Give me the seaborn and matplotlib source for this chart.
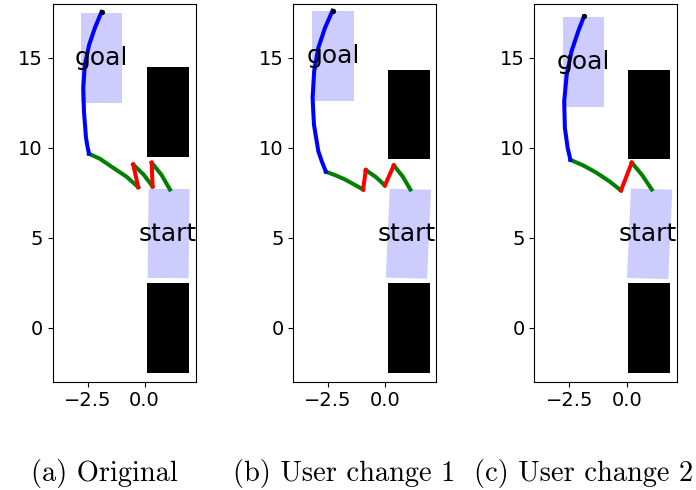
import matplotlib
matplotlib.use("Agg")
import matplotlib.pyplot as plt
from matplotlib.patches import Rectangle
import seaborn as sns

# ---------------- data ----------------
captions = ["(a) Original", "(b) User change 1", "(c) User change 2"]
x_ticks = [-2.5, 0.0]
x_tick_labels = ["\u22122.5", "0.0"]
y_ticks = [0, 5, 10, 15]
y_tick_labels = ["0", "5", "10", "15"]

# blue (forward) path, bottom -> top
a_blue_x = [-2.44, -2.51, -2.57, -2.66, -2.69, -2.62, -2.43, -2.18, -1.89]
a_blue_y = [9.67, 10.10, 10.56, 12.03, 13.33, 14.63, 15.74, 16.67, 17.56]
b_blue_x = [-2.58, -2.76, -2.91, -3.10, -3.16, -3.09, -2.91, -2.62, -2.29]
b_blue_y = [8.67, 9.25, 9.81, 11.29, 12.78, 14.26, 15.56, 16.67, 17.63]
c_blue_x = [-2.45, -2.57, -2.69, -2.72, -2.61, -2.40, -2.11, -1.86]
c_blue_y = [9.33, 10.00, 11.11, 12.59, 14.07, 15.37, 16.48, 17.31]

# green segments (start ... end)
a_green = [([1.11, 0.74, 0.31], [7.68, 8.50, 9.17]),
           ([0.35, -0.05, -0.50], [7.85, 8.52, 9.07]),
           ([-0.28, -0.79, -1.38, -1.96, -2.44], [7.81, 8.39, 8.89, 9.39, 9.67])]
b_green = [([1.10, 0.77, 0.38], [7.68, 8.40, 9.02]),
           ([-0.01, -0.41, -0.84], [7.91, 8.38, 8.76]),
           ([-0.96, -1.35, -1.75, -2.14, -2.58], [7.68, 7.96, 8.24, 8.46, 8.67])]
c_green = [([1.09, 0.65, 0.22], [7.68, 8.52, 9.17]),
           ([-0.25, -0.76, -1.31, -1.89, -2.45], [7.63, 8.14, 8.61, 9.02, 9.33])]

# red segments
a_red = [([0.31, 0.35], [9.17, 7.85]),
         ([-0.50, -0.28], [9.07, 7.81])]
b_red = [([0.38, -0.01], [9.02, 7.91]),
         ([-0.84, -0.96], [8.76, 7.68])]
c_red = [([0.22, -0.25], [9.17, 7.63])]

# goal region: (x0, y0, width, height)
goal_boxes = [(-2.79, 12.50, 1.80, 5.0), (-3.17, 12.59, 1.81, 5.0), (-2.79, 12.28, 1.80, 5.0)]
# start region: (x0, y0, width, height, angle)
start_boxes = [(0.13, 2.76, 1.80, 4.96, -0.5), (0.03, 2.78, 1.80, 4.95, -2.0), (0.01, 2.76, 1.80, 4.98, -2.0)]
# obstacles: (x0, y0, width, height)
obstacles = [[(0.10, 9.50, 1.85, 5.0), (0.10, -2.50, 1.85, 5.0)],
             [(0.12, 9.35, 1.83, 5.0), (0.12, -2.50, 1.83, 5.0)],
             [(0.06, 9.35, 1.83, 5.0), (0.06, -2.50, 1.83, 5.0)]]
xlims = [(-4.03, 2.24), (-4.00, 2.23), (-4.02, 2.20)]
ylim = (-3.0, 18.0)

blues = [(a_blue_x, a_blue_y), (b_blue_x, b_blue_y), (c_blue_x, c_blue_y)]
greens = [a_green, b_green, c_green]
reds = [a_red, b_red, c_red]

# ---------------- layout ----------------
fig = plt.figure(figsize=(6.96, 4.9), dpi=100)
lefts = [52.7, 293.3, 534.3]
ax_w = 143.0
ax_top, ax_bot = 4.0, 381.5
W, H = 696.0, 490.0
cap_x = [104, 344, 584]
lw = 2.9

for i in range(3):
    ax = fig.add_axes([lefts[i] / W, (H - ax_bot) / H, ax_w / W, (ax_bot - ax_top) / H])
    for (x0, y0, w, h) in obstacles[i]:
        ax.add_patch(Rectangle((x0, y0), w, h, facecolor="black", edgecolor="none", zorder=1))
    gx, gy, gw, gh = goal_boxes[i]
    ax.add_patch(Rectangle((gx, gy), gw, gh, facecolor="blue", alpha=0.2, edgecolor="none", zorder=1))
    sx, sy, sw, sh, sa = start_boxes[i]
    ax.add_patch(Rectangle((sx, sy), sw, sh, angle=sa, facecolor="blue", alpha=0.2, edgecolor="none", zorder=1))

    for gxs, gys in greens[i]:
        sns.lineplot(x=gxs, y=gys, sort=False, estimator=None, color="green", lw=lw, ax=ax, zorder=3)
    for rxs, rys in reds[i]:
        sns.lineplot(x=rxs, y=rys, sort=False, estimator=None, color="red", lw=lw, ax=ax, zorder=3)
    bx, by = blues[i]
    sns.lineplot(x=bx, y=by, sort=False, estimator=None, color="blue", lw=lw, ax=ax, zorder=3)
    sns.scatterplot(x=[bx[-1]], y=[by[-1]], color="black", s=14, ax=ax, zorder=4, linewidth=0)

    ax.text(gx + gw / 2, gy + gh / 2, "goal", fontsize=18, ha="center", va="center", zorder=5)
    ax.text(sx + sw / 2, sy + sh / 2 - 0.05, "start", fontsize=18, ha="center", va="center", zorder=5)

    ax.set_xlim(*xlims[i])
    ax.set_ylim(*ylim)
    ax.set_xticks(x_ticks)
    ax.set_xticklabels(x_tick_labels)
    ax.set_yticks(y_ticks)
    ax.set_yticklabels(y_tick_labels)
    ax.tick_params(labelsize=14)
    ax.set_xlabel("")
    ax.set_ylabel("")

    fig.text(cap_x[i] / W, (H - 473) / H, captions[i], fontsize=20.5,
             family=["cmr10", "DejaVu Serif"], ha="center", va="center")

fig.savefig("out.png", dpi=100)
